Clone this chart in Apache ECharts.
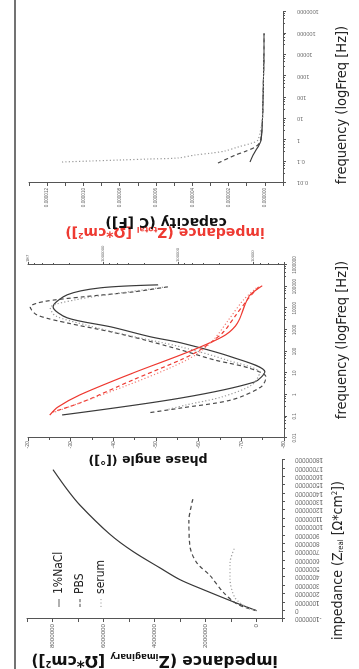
<!DOCTYPE html>
<html>
<head>
<meta charset="utf-8">
<script src="https://cdn.jsdelivr.net/npm/echarts@6/dist/echarts.min.js"></script>
<style>
  html, body { margin: 0; padding: 0; background: #fff; overflow: hidden; }
  #wrap { position: absolute; left: 0; top: 0; width: 359px; height: 669px; overflow: hidden; }
  /* the figure is printed turned a quarter turn, so the chart is drawn upright and rotated */
  #chart { position: absolute; left: 0; top: 0; width: 669px; height: 359px;
           transform-origin: 0 0; transform: translate(0, 669px) rotate(-90deg); }
</style>
</head>
<body>
<div id="wrap"><div id="chart"></div></div>
<script>
var samples = ["1%NaCl", "PBS", "serum"];

// Nyquist: [Z_real, Z_imaginary] (Ω*cm²)
var nyqNaCl = [[0, 0], [1.07e6, 0.92e6], [2.4e6, 2.0e6], [3.7e6, 3.0e6], [5.1e6, 3.78e6], [7.06e6, 4.84e6],
  [9.13e6, 5.75e6], [12.6e6, 6.92e6], [14.5e6, 7.43e6], [16.85e6, 7.98e6]];
var nyqPBS = [[0, 0], [0.73e6, 0.73e6], [2.22e6, 1.31e6], [4.18e6, 1.82e6], [5.68e6, 2.33e6],
  [7.64e6, 2.61e6], [10.75e6, 2.65e6], [13.4e6, 2.49e6]];
var nyqSerum = [[0, 0], [0.38e6, 0.37e6], [1.53e6, 0.84e6], [3.84e6, 1.04e6], [5.68e6, 1.04e6], [7.64e6, 0.84e6]];

// Bode phase: [Hz, °]
var phaseNaCl = [[121000, -50.5], [88000, -37], [42000, -29.2], [11600, -25.9], [3600, -29.2], [1380, -39.4],
  [474, -48.8], [250, -55.9], [56, -67.7], [11.4, -75.5], [3.9, -73.1], [0.71, -55.9], [0.116, -28]];
var phasePBS = [[98000, -52.8], [57500, -44.8], [33900, -33], [20000, -23.5], [11500, -20.5], [4900, -22.1],
  [2090, -29.2], [813, -39.4], [347, -47.2], [117, -55.9], [40.7, -63.7], [17.4, -71.7], [6.6, -75.8],
  [2.3, -74.6], [0.58, -67.7], [0.245, -55.9], [0.145, -48.1]];
var phaseSerum = [[98000, -52.4], [51000, -41.7], [24500, -31.1], [10500, -25.2], [4470, -26.4], [1700, -33.5],
  [590, -42.9], [162, -55.9], [40.7, -66.5], [10.2, -74.3], [2.8, -72.4], [0.79, -65.4], [0.34, -57.1], [0.2, -52.4]];

// Bode impedance: [Hz, Z_total Ω*cm²]
var zNaCl = [[110000, 7600], [41700, 11000], [14500, 12900], [2090, 16200], [590, 23400], [204, 43600],
  [69, 93300], [10.2, 398000], [0.98, 2.04e6], [0.275, 3.98e6], [0.115, 5.13e6]];
var zPBS = [[98000, 8500], [24500, 12000], [4900, 17000], [724, 25700], [117, 51300], [40.7, 93300],
  [4.9, 398000], [0.47, 1.86e6], [0.16, 4.68e6]];
var zSerum = [[87000, 9100], [24500, 13500], [2880, 21400], [347, 33900], [69, 58900], [17.4, 129000],
  [2.8, 468000], [0.42, 2.04e6], [0.16, 4.37e6]];

// capacity: [Hz, F]
var capNaCl = [[0.096, 0.82e-6], [0.2, 0.65e-6], [0.35, 0.49e-6], [0.6, 0.32e-6], [1.03, 0.21e-6],
  [10, 0.13e-6], [100, 0.1e-6], [1000, 0.074e-6], [10000, 0.05e-6], [100000, 0.047e-6]];
var capPBS = [[0.086, 2.58e-6], [0.2, 1.64e-6], [0.31, 1.04e-6], [0.48, 0.54e-6], [0.83, 0.27e-6],
  [10, 0.13e-6], [100, 0.1e-6], [1000, 0.074e-6], [10000, 0.05e-6], [100000, 0.045e-6]];
var capSerum = [[0.096, 11.18e-6], [0.107, 9.63e-6], [0.119, 7.98e-6], [0.133, 6.33e-6], [0.148, 4.79e-6],
  [0.204, 3.85e-6], [0.253, 2.91e-6], [0.314, 2.2e-6], [0.483, 1.48e-6], [0.743, 0.71e-6], [1.03, 0.38e-6],
  [10, 0.14e-6], [100, 0.1e-6], [1000, 0.075e-6], [10000, 0.05e-6], [100000, 0.045e-6]];

var axisColor = "#555";
var labelColor = "#666";
var narrow = "'Liberation Sans Narrow', 'DejaVu Sans Condensed', sans-serif";
var wide = "'DejaVu Sans', Verdana, sans-serif";
var red = "#ee3a32";

// legend marks: solid bar, two dashes, dots
var legendIcons = [
  "path://M0,0H10V1H0Z",
  "path://M0,0H4V1H0Z M6,0H10V1H6Z",
  "path://M0,0H1.4V1H0Z M4.3,0H5.7V1H4.3Z M8.6,0H10V1H8.6Z"
];

function plain(v) {
  return String(+(+v).toPrecision(6));
}

function line(name, data, xi, yi, color, dash, width) {
  return {
    name: name, type: "line", xAxisIndex: xi, yAxisIndex: yi, data: data,
    symbol: "none", smooth: 0.3, silent: true,
    lineStyle: { color: color, width: width || 1.2, type: dash },
    itemStyle: { color: color }
  };
}

function baseAxis(extra) {
  var a = {
    axisLine: { onZero: false, lineStyle: { color: axisColor, width: 1 } },
    axisTick: { length: 3, lineStyle: { color: axisColor } },
    splitLine: { show: false },
    nameLocation: "middle"
  };
  for (var k in extra) a[k] = extra[k];
  return a;
}

function tickLabel(size, margin, rotate, formatter) {
  return { fontSize: size, margin: margin, rotate: rotate || 0, color: labelColor,
    fontFamily: "'Liberation Sans', Arial, sans-serif", formatter: formatter };
}

function richName(size, color, family, weight) {
  return {
    fontSize: size, color: color, fontFamily: family, fontWeight: weight,
    rich: {
      s: { fontSize: size * 0.55, color: color, fontFamily: family, fontWeight: weight, verticalAlign: "bottom" },
      p: { fontSize: size * 0.55, color: color, fontFamily: family, fontWeight: weight, verticalAlign: "top" }
    }
  };
}

var chart = echarts.init(document.getElementById("chart"));

var option = {
  animation: false,
  grid: [
    { left: 41, top: 27, width: 168, height: 255 },
    { left: 231, top: 28, width: 173, height: 256 },
    { left: 486, top: 29, width: 171, height: 254 }
  ],
  legend: {
    data: samples.map(function (s, i) { return { name: s, icon: legendIcons[i] }; }),
    orient: "vertical", left: 57, top: 48,
    itemWidth: 8, itemHeight: 1.5, itemGap: 9,
    textStyle: { fontFamily: narrow, fontSize: 12, color: "#222" }
  },
  xAxis: [
    baseAxis({
      gridIndex: 0, type: "value", min: -1e6, max: 18e6, interval: 1e6,
      axisLabel: tickLabel(6.3, 13, 90, plain),
      name: "impedance (Z{s|real} [Ω*cm{p|2}])", nameGap: 48,
      nameTextStyle: Object.assign(richName(14, "#222", narrow, "normal"), { padding: [0, 42, 0, 0] })
    }),
    baseAxis({
      gridIndex: 1, type: "log", min: 0.01, max: 1e6,
      minorTick: { show: true, splitNumber: 5, length: 2, lineStyle: { color: axisColor } },
      axisLabel: tickLabel(4.5, 8, 0, plain),
      name: "frequency (logFreq [Hz])", nameGap: 51,
      nameTextStyle: { fontSize: 14.5, color: "#222", fontFamily: narrow, padding: [0, 0, 0, 23] }
    }),
    baseAxis({
      gridIndex: 2, type: "log", min: 0.01, max: 1e6,
      minorTick: { show: true, splitNumber: 5, length: 2, lineStyle: { color: axisColor } },
      axisLabel: tickLabel(5.6, 14, 90, plain),
      name: "frequency (logFreq [Hz])", nameGap: 52,
      nameTextStyle: { fontSize: 14.5, color: "#222", fontFamily: narrow, padding: [0, 15, 0, 0] }
    })
  ],
  yAxis: [
    baseAxis({
      gridIndex: 0, type: "value", min: -1e6, max: 9e6, interval: 1e6,
      axisLabel: tickLabel(6.2, 5, 0, function (v) {
        var k = Math.round(v / 1e6);
        return k >= 0 && k % 2 === 0 ? String(k * 1e6) : "";
      }),
      name: "impedance (Z{s|imaginary} [Ω*cm{p|2}])", nameGap: 30,
      nameTextStyle: richName(15.5, "#111", wide, "bold")
    }),
    baseAxis({
      gridIndex: 1, type: "value", min: -80, max: -20, interval: 10,
      minorTick: { show: true, splitNumber: 2, length: 2, lineStyle: { color: axisColor } },
      axisLabel: tickLabel(5.2, 3, 0, plain),
      name: "phase angle ([°])", nameGap: 11,
      nameTextStyle: { fontSize: 12.5, color: "#111", fontFamily: wide, fontWeight: "bold", padding: [0, 0, 0, 16] }
    }),
    baseAxis({
      gridIndex: 1, type: "log", position: "right", min: 3900, max: 1e7,
      minorTick: { show: true, splitNumber: 5, length: 2, lineStyle: { color: axisColor } },
      axisLabel: Object.assign(tickLabel(4.2, 3, 0, function (v) {
        return v >= 9.9e6 ? "1E7" : String(Math.round(v));
      }), { showMinLabel: false }),
      name: "impedance (Z{s|total} [Ω*cm{p|2}])", nameGap: 26,
      nameTextStyle: Object.assign(richName(14, red, wide, "bold"), { padding: [0, 18, 0, 0] })
    }),
    baseAxis({
      gridIndex: 2, type: "value", min: -1e-6, max: 13e-6, interval: 1e-6,
      axisLabel: tickLabel(4.6, 5, 0, function (v) {
        var k = Math.round(v * 1e6);
        return k >= 0 && k % 2 === 0 ? (k * 1e-6).toFixed(6) : "";
      }),
      name: "capacity (C [F])", nameGap: 32,
      nameTextStyle: { fontSize: 14, color: "#111", fontFamily: wide, fontWeight: "bold", padding: [0, 20, 0, 0] }
    })
  ],
  graphic: [
    { type: "line", shape: { x1: 0, y1: 15, x2: 669, y2: 15 }, style: { stroke: "#444", lineWidth: 1.6 } }
  ],
  series: [
    line(samples[0], nyqNaCl, 0, 0, "#3a3a3a", "solid"),
    line(samples[1], nyqPBS, 0, 0, "#4a4a4a", [4, 3]),
    line(samples[2], nyqSerum, 0, 0, "#999", [1.2, 2.2]),
    line("phase NaCl", phaseNaCl, 1, 1, "#3a3a3a", "solid"),
    line("phase PBS", phasePBS, 1, 1, "#4a4a4a", [4, 3]),
    line("phase serum", phaseSerum, 1, 1, "#999", [1.2, 2.2]),
    line("Z NaCl", zNaCl, 1, 2, red, "solid"),
    line("Z PBS", zPBS, 1, 2, red, [4, 3]),
    line("Z serum", zSerum, 1, 2, "#f27a72", [1.2, 2.2]),
    line("C NaCl", capNaCl, 2, 3, "#3a3a3a", "solid"),
    line("C PBS", capPBS, 2, 3, "#4a4a4a", [4, 3]),
    line("C serum", capSerum, 2, 3, "#999", [1.2, 2.2])
  ]
};

chart.setOption(option);
</script>
</body>
</html>
